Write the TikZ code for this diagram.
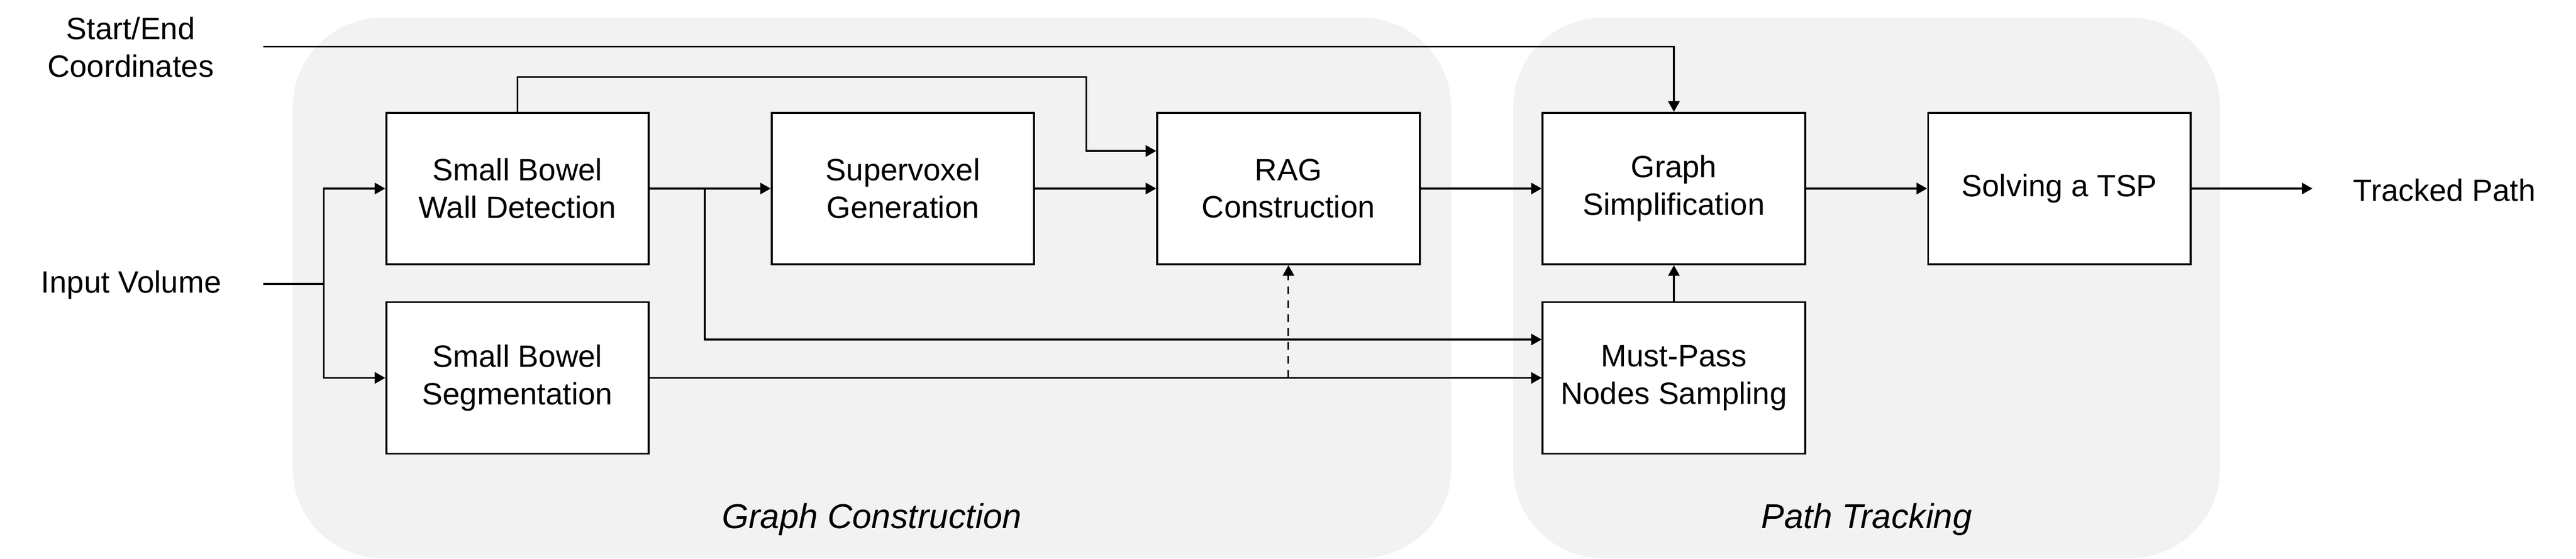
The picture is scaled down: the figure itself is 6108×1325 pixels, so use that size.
\documentclass[tikz,border=0pt]{standalone}
\usepackage{fontspec}
\setmainfont{Liberation Sans}
\usetikzlibrary{arrows.meta}
\definecolor{panelgray}{HTML}{F2F2F2}

\begin{document}
\begin{tikzpicture}[x=0.01cm,y=-0.01cm,
  >={Triangle[length=0.25cm,width=0.27cm]},
  panel/.style={fill=panelgray,draw=none,rounded corners=2.12cm},
  block/.style={shape=rectangle,draw=black,fill=white,align=center,line width=0.047cm,minimum width=6.22cm,minimum height=3.59cm,inner sep=0pt,font=\fontsize{20.8}{25.3}\selectfont},
  txt/.style={align=center,inner sep=0pt,font=\fontsize{20.8}{25.3}\selectfont},
  stage/.style={inner sep=0pt,font=\fontsize{23.3}{28}\selectfont\itshape},
  flow/.style={->,draw=black,line width=0.04cm}]
\useasboundingbox (0,0) rectangle (6108,1325);
\path[panel] (694,42) rectangle (3441,1323);
\path[panel] (3588,42) rectangle (5264,1323);
\node[stage] (gc) at (2067,1232) {Graph Construction};
\node[stage] (pt) at (4426,1232) {Path Tracking};

\node[txt] (start) at (310,112) {Start/End\\Coordinates};
\node[txt] (input) at (311,676) {Input Volume};
\node[txt] (tracked) at (5796,451) {Tracked Path};
\coordinate (startout) at (624,111);
\coordinate (inputout) at (624,673);
\coordinate (split) at (768,673);
\coordinate (outin) at (5483,447);

\node[block] (wall) at (1227,447) {Small Bowel\\Wall Detection};
\node[block] (seg) at (1227,896) {Small Bowel\\Segmentation};
\node[block] (svx) at (2141,447) {Supervoxel\\Generation};
\node[block] (rag) at (3055,447) {RAG\\Construction};
\node[block] (simp) at (3969,447) {Graph\\Simplification};
\node[block] (must) at (3969,896) {Must-Pass\\Nodes Sampling};
\node[block] (tsp) at (4883,447) {Solving a TSP};

\path [flow] (startout) -| (simp.north);
\path [draw=black,line width=0.04cm] (inputout) -- (split);
\path [flow] (split) |- (wall.west);
\path [flow] (split) |- (seg.west);
\path [flow] (wall.north) |- (2576,183) |- (rag.west |- 0,358);
\path [flow] (wall.east -| 1671,0) |- (must.west |- 0,805);
\path [flow,dash pattern=on 0.19cm off 0.14cm] (rag.south |- seg.east) -- (rag.south);
\path [flow] (wall) edge (svx);
\path [flow] (seg) edge (must);
\path [flow] (svx) edge (rag);
\path [flow] (rag) edge (simp);
\path [flow] (simp) edge (tsp);
\path [flow] (must) edge (simp);
\path [flow] (tsp) edge (outin);
\end{tikzpicture}
\end{document}
